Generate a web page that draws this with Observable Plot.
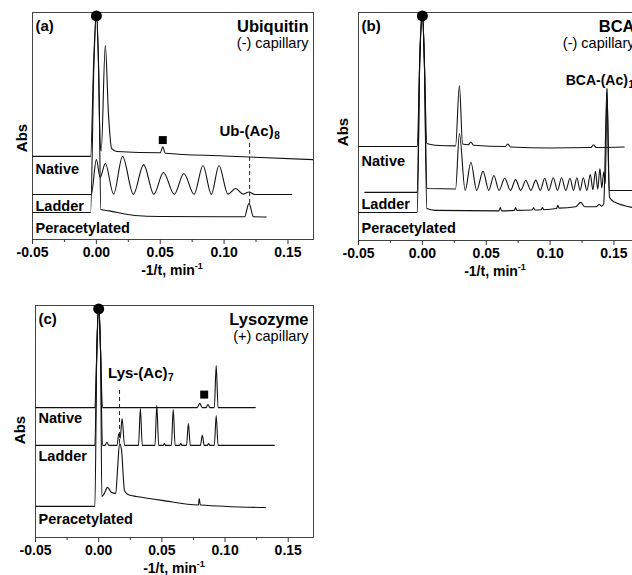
<!DOCTYPE html>
<html><head><meta charset="utf-8">
<script src="https://cdn.jsdelivr.net/npm/d3@7"></script>
<script src="https://cdn.jsdelivr.net/npm/@observablehq/plot@0.6"></script>
<style>
html,body{margin:0;padding:0;background:#fff;overflow:hidden}
#wrap{position:relative;width:632px;height:575px;overflow:hidden;font-family:"Liberation Sans",Arial,sans-serif;color:#000}
#wrap svg{position:absolute;max-width:none}
.abs{position:absolute;font-weight:bold;font-size:15px;line-height:15px;white-space:nowrap;transform:translate(-50%,-50%) rotate(-90deg)}
.xt{position:absolute;font-weight:bold;font-size:14px;line-height:14px;white-space:nowrap;transform:translateX(-50%)}
.xt sup{font-size:9px;line-height:0;vertical-align:6px}
g[aria-label="x-axis tick label"]{font-weight:bold}
</style></head><body><div id="wrap"></div><script>
// ---------- data ----------
const xTicks = [-0.05, 0.00, 0.05, 0.10, 0.15];
const xMinorTicks = [-0.025, 0.025, 0.075, 0.125];
const traceNames = ["Native", "Ladder", "Peracetylated"];

// (a) Ubiquitin, [x = -1/t (min^-1), Abs (a.u.)]
const ubNative = [[-0.05,36.6],[-0.0045,36.6],[-0.002,80],[0,100],[0.0015,80],[0.003,42],[0.0038,39],[0.007,85.5],[0.0095,55],[0.012,40],[0.016,38.8],[0.05,38.2],[0.052,40.8],[0.054,38],[0.1,36.8],[0.17,35.2]];
const ubLadder = [[-0.05,19.8],[-0.004,19.8],[0,35.2],[0.003,27.3],[0.007,33.5],[0.0135,20.0],[0.0205,36.6],[0.029,19.9],[0.037,33.0],[0.045,19.9],[0.0525,29.5],[0.061,19.9],[0.0685,29.1],[0.0765,19.9],[0.0835,32.6],[0.09,19.9],[0.096,32.6],[0.103,20.0],[0.109,22.5],[0.115,20.0],[0.1195,20.9],[0.124,19.8],[0.153,19.8]];
const ubPeracetylated = [[-0.05,11.9],[-0.0045,11.9],[-0.002,75],[0,100],[0.002,70],[0.0035,13.2],[0.01,12.6],[0.03,10.6],[0.05,10.1],[0.1,10.0],[0.116,10.0],[0.1195,15.9],[0.123,10.0],[0.133,9.9]];

// (b) BCA
const bcaNative = [[-0.05,41.2],[-0.004,41.2],[-0.002,80],[0,100],[0.0015,80],[0.0035,42.5],[0.01,41.8],[0.026,41.5],[0.029,68],[0.0315,42.3],[0.036,42.0],[0.038,43.2],[0.040,41.8],[0.065,41.2],[0.067,42.3],[0.069,41.0],[0.1,40.6],[0.132,40.8],[0.134,42.0],[0.136,40.8],[0.158,41.0]];
const bcaLadder = [[-0.045,21.1],[-0.004,21.1],[-0.002,80],[0,100],[0.0015,80],[0.0035,22.8],[0.026,22.6],[0.029,46.9],[0.0335,22],[0.038,34.3],[0.0425,22],[0.0475,30.3],[0.052,22],[0.056,28.5],[0.060,22],[0.0645,27.3],[0.069,22],[0.073,26.7],[0.077,22],[0.081,26.3],[0.085,22],[0.0888,26.5],[0.0923,22],[0.0958,27.3],[0.099,22],[0.1025,27.5],[0.1058,22],[0.109,27.5],[0.1123,22],[0.1156,27.3],[0.1183,22],[0.121,27.5],[0.1235,22],[0.126,27.5],[0.1288,22],[0.1315,28.9],[0.1335,22.3],[0.1355,30.4],[0.1373,22.5],[0.139,31.6],[0.1405,23],[0.142,30],[0.1433,25],[0.1445,66.7],[0.1462,22],[0.17,21.9]];
const bcaPeracetylated = [[-0.05,12.3],[-0.004,12.3],[-0.002,80],[0,100],[0.0015,80],[0.0035,14.0],[0.01,13.2],[0.06,13.0],[0.061,14.5],[0.062,13.0],[0.072,13.2],[0.073,14.4],[0.074,13.2],[0.086,13.4],[0.087,14.5],[0.088,13.4],[0.093,13.5],[0.094,14.6],[0.095,13.5],[0.105,14.0],[0.106,15.4],[0.107,14.2],[0.12,14.8],[0.124,16.7],[0.127,14.8],[0.136,14.8],[0.1385,15.8],[0.1405,15.0],[0.142,16.2],[0.1445,66.7],[0.1465,19],[0.15,17],[0.17,14.0]];

// (c) Lysozyme
const lysNative = [[-0.05,56.0],[-0.003,56.0],[-0.0015,80],[0,100],[0.0015,80],[0.003,56.0],[0.078,56.0],[0.080,57.8],[0.082,56.0],[0.085,56.0],[0.0865,57.3],[0.088,56.0],[0.0915,56.0],[0.093,74.1],[0.0945,56.0],[0.124,56.0]];
const lysLadder = [[-0.05,39.7],[-0.003,39.7],[-0.0015,80],[0,100],[0.0015,80],[0.003,39.7],[0.005,39.7],[0.0065,41],[0.008,39.7],[0.0145,39.7],[0.016,44.8],[0.017,42.7],[0.0185,51.3],[0.0205,39.7],[0.0315,39.7],[0.033,55.6],[0.0345,39.7],[0.0445,39.7],[0.046,56.9],[0.0475,39.7],[0.051,39.7],[0.052,40.5],[0.053,39.7],[0.0575,39.7],[0.059,55.2],[0.0605,39.7],[0.064,39.7],[0.065,40.5],[0.066,39.7],[0.0695,39.7],[0.071,49.1],[0.0725,39.7],[0.0805,39.7],[0.082,44],[0.0835,39.7],[0.086,39.7],[0.087,40.5],[0.088,39.7],[0.0915,39.7],[0.093,52.6],[0.0945,39.7],[0.139,39.7]];
const lysPeracetylated = [[-0.05,13.4],[-0.003,13.4],[-0.0015,80],[0,100],[0.0015,80],[0.0025,17.7],[0.004,18.5],[0.007,21.6],[0.01,19.5],[0.0135,19],[0.015,30],[0.0165,40.5],[0.018,38],[0.0205,20],[0.024,18.3],[0.03,17.7],[0.05,16.0],[0.079,14.0],[0.0795,16.8],[0.0805,14.0],[0.132,12.9]];

// markers
const neutralMarker = [0, 98.5];          // ● EOF marker
const ubSquare = [0.052, 43.8];           // ■
const lysSquare = [0.0835, 61.6];         // ■

// annotations
const ubAnnotation = {label: "Ub-(Ac)", sub: "8", x: 0.12, y1: 15.9, y2: 43.0};
const bcaAnnotation = {label: "BCA-(Ac)", sub: "18", x: 0.1445, y1: null, y2: 66.7};
const lysAnnotation = {label: "Lys-(Ac)", sub: "7", x: 0.0165, y1: 40.5, y2: 64.7};

// panel texts
const panelTags = ["(a)", "(b)", "(c)"];
const proteinNames = ["Ubiquitin", "BCA", "Lysozyme"];
const capillaries = ["(-) capillary", "(-) capillary", "(+) capillary"];

// ---------- layout ----------
const FONT = '"Liberation Sans", Arial, sans-serif';
const panels = [
  {tag: panelTags[0], protein: proteinNames[0], cap: capillaries[0], traces: [ubNative, ubLadder, ubPeracetylated],
   labelDy: [7, 6, 10], square: ubSquare, ann: ubAnnotation, annDx: 24, annDy: -6, annSize: 15,
   left: 0, top: 0, width: 320, height: 290, mt: 12, mb: 51, absX: 21, absY: 138, xtX: 172, xtY: 263},
  {tag: panelTags[1], protein: proteinNames[1], cap: capillaries[1], traces: [bcaNative, bcaLadder, bcaPeracetylated],
   labelDy: [9, 6, 10], square: null, ann: bcaAnnotation, annDx: 21, annDy: -3, annSize: 14,
   left: 326, top: 0, width: 320, height: 290, mt: 12, mb: 50, absX: 342, absY: 132, xtX: 495, xtY: 264},
  {tag: panelTags[2], protein: proteinNames[2], cap: capillaries[2], traces: [lysNative, lysLadder, lysPeracetylated],
   labelDy: [5, 5, 7], square: lysSquare, ann: lysAnnotation, annDx: 48, annDy: -9, annSize: 15,
   left: 3, top: 290, width: 317, height: 285, mt: 15, mb: 38, absX: 19, absY: 430, xtX: 174, xtY: 561}
];

const wrap = document.getElementById("wrap");
for (const p of panels) {
  const marks = [
    Plot.frame({stroke: "#444"}),
    Plot.axisX(xTicks, {label: null, tickSize: 5, tickPadding: 3, tickFormat: d => d.toFixed(2), fontSize: 14, fontWeight: "bold", stroke: "#333", fill: "#000"}),
    Plot.axisX(xMinorTicks, {label: null, tickSize: 3, tickFormat: () => "", stroke: "#333"})
  ];
  p.traces.forEach((data, i) => {
    marks.push(Plot.line(data, {x: d => d[0], y: d => d[1], curve: "monotone-x", stroke: "#111", strokeWidth: 1.1, clip: true}));
    marks.push(Plot.text([{name: traceNames[i], y: data[0][1]}], {frameAnchor: "left", y: "y", text: "name", textAnchor: "start", lineAnchor: "top", dx: 3, dy: p.labelDy[i], fontWeight: "bold", fontSize: 14.5, fill: "#000"}));
  });
  const a = p.ann;
  if (a.y1 != null) marks.push(Plot.ruleX([a], {x: "x", y1: "y1", y2: "y2", stroke: "#222", strokeDasharray: "4,3", strokeWidth: 1}));
  marks.push(Plot.text([a], {x: "x", y: "y2", text: "label", textAnchor: "end", lineAnchor: "bottom", dx: p.annDx, dy: p.annDy, fontWeight: "bold", fontSize: p.annSize, fill: "#000"}));
  marks.push(Plot.text([a], {x: "x", y: "y2", text: "sub", textAnchor: "start", lineAnchor: "bottom", dx: p.annDx + 0.5, dy: p.annDy + 3, fontWeight: "bold", fontSize: 10, fill: "#000"}));
  marks.push(Plot.dot([neutralMarker], {x: d => d[0], y: d => d[1], r: 5.5, fill: "#000", stroke: "none"}));
  if (p.square) marks.push(Plot.dot([p.square], {x: d => d[0], y: d => d[1], symbol: "square", r: 4.5, fill: "#000", stroke: "none"}));
  marks.push(Plot.text([p.tag], {frameAnchor: "top-left", textAnchor: "start", lineAnchor: "top", dx: 3, dy: 8, fontWeight: "bold", fontSize: 15, fill: "#000"}));
  marks.push(Plot.text([p.protein], {frameAnchor: "top-right", textAnchor: "end", lineAnchor: "top", dx: -5, dy: 8, fontWeight: "bold", fontSize: 16.5, fill: "#000"}));
  marks.push(Plot.text([p.cap], {frameAnchor: "top-right", textAnchor: "end", lineAnchor: "top", dx: -5, dy: 25, fontWeight: "normal", fontSize: 14.5, fill: "#000"}));

  const svg = Plot.plot({
    width: p.width, height: p.height,
    marginLeft: 32, marginRight: 7, marginTop: p.mt, marginBottom: p.mb,
    style: {fontFamily: FONT, fontSize: "14px", background: "transparent", color: "#000"},
    x: {domain: [-0.05, 0.17], axis: null, label: null},
    y: {domain: [0, 100], axis: null, label: null},
    marks
  });
  svg.style.left = p.left + "px";
  svg.style.top = p.top + "px";
  wrap.appendChild(svg);

  const abs = document.createElement("div");
  abs.className = "abs"; abs.textContent = "Abs";
  abs.style.left = p.absX + "px"; abs.style.top = p.absY + "px";
  wrap.appendChild(abs);

  const xt = document.createElement("div");
  xt.className = "xt"; xt.innerHTML = "-1/t, min<sup>-1</sup>";
  xt.style.left = p.xtX + "px"; xt.style.top = p.xtY + "px";
  wrap.appendChild(xt);
}
</script></body></html>
